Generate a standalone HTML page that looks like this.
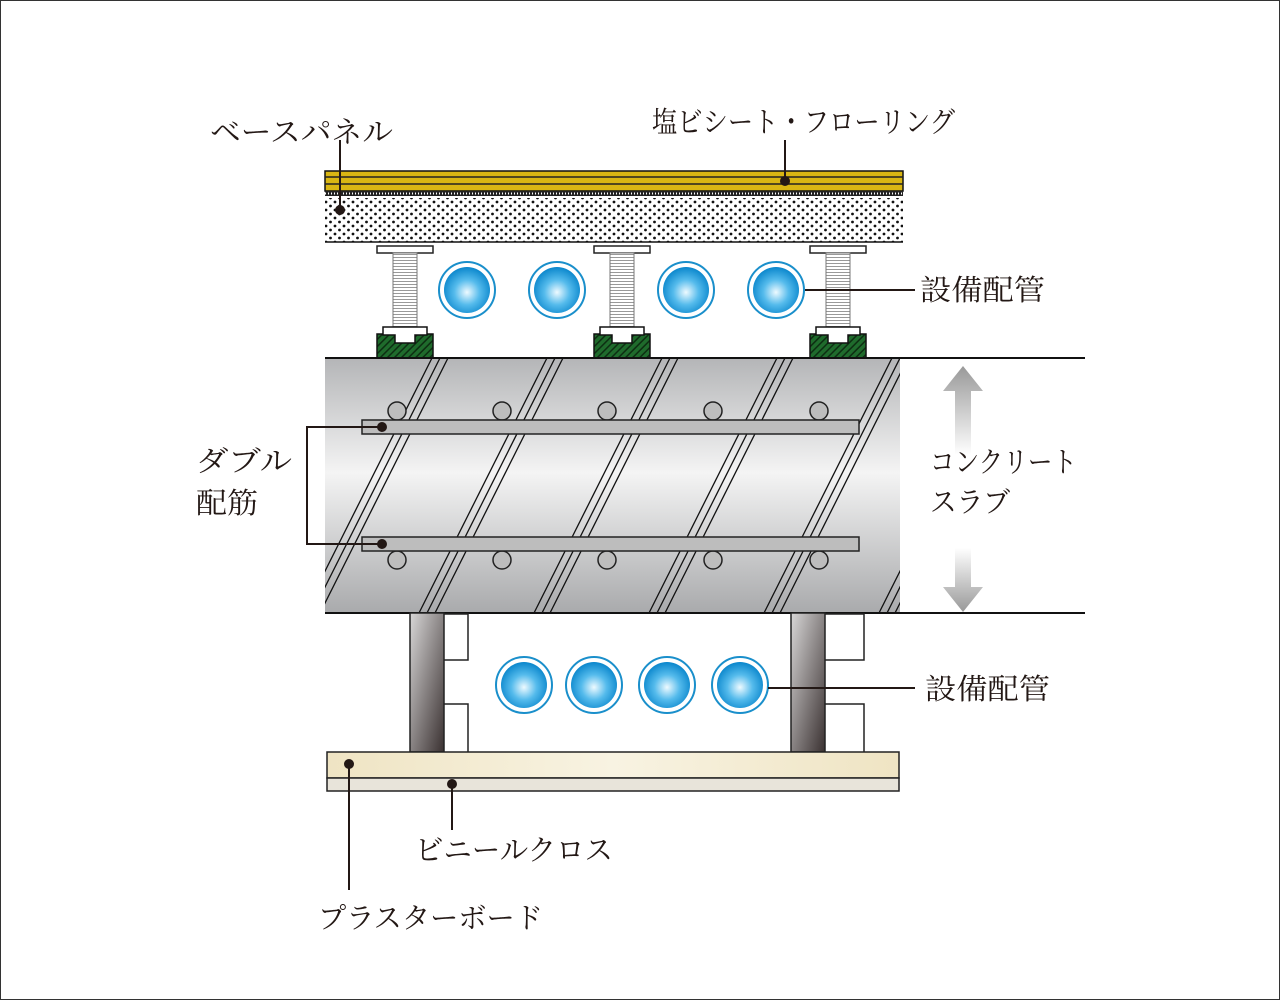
<!DOCTYPE html>
<html><head><meta charset="utf-8"><style>
html,body{margin:0;padding:0;background:#fff}
svg{display:block}
text{font-family:"Liberation Serif","Noto Serif CJK SC","Noto Sans CJK JP",serif;font-size:29px;fill:#231815}
</style></head><body>
<svg width="1280" height="1000" viewBox="0 0 1280 1000" xmlns="http://www.w3.org/2000/svg">
<defs>
<linearGradient id="slab" x1="0" y1="0" x2="0" y2="1">
<stop offset="0" stop-color="#b4b5b7"/><stop offset="0.45" stop-color="#f4f4f4"/><stop offset="1" stop-color="#a9aaac"/></linearGradient>
<radialGradient id="pipe" cx="0.5" cy="0.55" r="0.55">
<stop offset="0" stop-color="#eefaff"/><stop offset="0.5" stop-color="#55bbec"/><stop offset="1" stop-color="#0a86cc"/></radialGradient>
<linearGradient id="col" x1="0" y1="0" x2="1" y2="1">
<stop offset="0" stop-color="#d8d7d7"/><stop offset="1" stop-color="#3a3131"/></linearGradient>
<linearGradient id="board" x1="0" y1="0" x2="1" y2="0">
<stop offset="0" stop-color="#efe4c3"/><stop offset="0.5" stop-color="#f8f3e2"/><stop offset="1" stop-color="#efe4c3"/></linearGradient>
<linearGradient id="arr" x1="0" y1="0" x2="0" y2="1">
<stop offset="0" stop-color="#999"/><stop offset="1" stop-color="#fff"/></linearGradient>
<linearGradient id="arr2" x1="0" y1="1" x2="0" y2="0">
<stop offset="0" stop-color="#999"/><stop offset="1" stop-color="#fff"/></linearGradient>
<pattern id="dots" width="9" height="8" patternUnits="userSpaceOnUse">
<circle cx="2" cy="2" r="1.4" fill="#111"/><circle cx="6.5" cy="6" r="1.4" fill="#111"/></pattern>
<pattern id="hatch" width="5" height="5" patternUnits="userSpaceOnUse" patternTransform="rotate(45)">
<rect width="5" height="5" fill="#1f6b2c"/><rect width="1.5" height="5" fill="#0d2e12"/></pattern>
<pattern id="thread" width="4" height="3" patternUnits="userSpaceOnUse">
<rect width="4" height="3" fill="#fff"/><rect y="1" width="4" height="1" fill="#999"/></pattern>
<clipPath id="sc"><rect x="325" y="358" width="575" height="255"/></clipPath>
<g id="ped">
<rect x="-28" y="-1" width="56" height="7" fill="#fff" stroke="#222" stroke-width="1.5"/>
<rect x="-12" y="6" width="24" height="78" fill="url(#thread)" stroke="#777" stroke-width="1"/>
<path d="M-28 87 H28 V113 L24 117 H-24 L-28 113 Z" fill="url(#hatch)" stroke="#111" stroke-width="1.5"/>
<path d="M-22 80 H22 V88 H10 V96 H-10 V88 H-22 Z" fill="#fff" stroke="#111" stroke-width="1.5"/>
</g>
<g id="p"><circle r="28" fill="#fff" stroke="#1a8fcb" stroke-width="2"/><circle r="23" fill="url(#pipe)"/></g>
</defs>

<rect x="0.5" y="0.5" width="1279" height="999" fill="#fff" stroke="#333" stroke-width="1"/>

<rect x="325" y="171" width="578" height="20" fill="#d9b613" stroke="#111" stroke-width="1.5"/>
<line x1="325" y1="177" x2="903" y2="177" stroke="#222" stroke-width="1.5"/>
<line x1="325" y1="184" x2="903" y2="184" stroke="#222" stroke-width="1.5"/>
<rect x="325" y="191" width="578" height="5" fill="#222"/>
<line x1="325" y1="193.5" x2="903" y2="193.5" stroke="#fff" stroke-width="2" stroke-dasharray="1 2"/>
<rect x="325" y="198" width="578" height="44" fill="url(#dots)"/>
<line x1="325" y1="242" x2="903" y2="242" stroke="#111" stroke-width="1.5"/>

<use href="#ped" x="405" y="247"/>
<use href="#ped" x="622" y="247"/>
<use href="#ped" x="838" y="247"/>

<use href="#p" x="467" y="290"/><use href="#p" x="557" y="290"/>
<use href="#p" x="686" y="290"/><use href="#p" x="776" y="290"/>

<rect x="325" y="358" width="575" height="255" fill="url(#slab)"/>
<g clip-path="url(#sc)" stroke="#111" stroke-width="1.3">
<g id="st"><line x1="432" y1="358" x2="304" y2="613"/><line x1="440" y1="358" x2="312" y2="613"/><line x1="448" y1="358" x2="320" y2="613"/></g>
<use href="#st" x="115"/><use href="#st" x="230"/><use href="#st" x="345"/><use href="#st" x="460"/><use href="#st" x="575"/>
</g>
<line x1="325" y1="358" x2="1085" y2="358" stroke="#111" stroke-width="2"/>
<line x1="325" y1="613" x2="1085" y2="613" stroke="#111" stroke-width="2"/>
<g fill="#bdbdbd" stroke="#222" stroke-width="1.5">
<circle cx="397" cy="411" r="9"/><circle cx="502" cy="411" r="9"/><circle cx="607" cy="411" r="9"/><circle cx="713" cy="411" r="9"/><circle cx="819" cy="411" r="9"/>
<circle cx="397" cy="560" r="9"/><circle cx="502" cy="560" r="9"/><circle cx="607" cy="560" r="9"/><circle cx="713" cy="560" r="9"/><circle cx="819" cy="560" r="9"/>
<rect x="362" y="420" width="497" height="14"/>
<rect x="362" y="537" width="497" height="14"/>
</g>

<path d="M963 366 L983 391 H971 V455 H955 V391 H943 Z" fill="url(#arr)"/>
<path d="M963 612 L983 587 H971 V548 H955 V587 H943 Z" fill="url(#arr2)"/>

<rect x="410" y="613" width="34" height="139" fill="url(#col)" stroke="#222" stroke-width="1.5"/>
<rect x="791" y="613" width="34" height="139" fill="url(#col)" stroke="#222" stroke-width="1.5"/>
<g fill="none" stroke="#222" stroke-width="1.5">
<path d="M444 614 H468 V660 H444 M444 704 H468 V752"/>
<path d="M825 614 H864 V660 H825 M825 704 H864 V752"/>
</g>
<use href="#p" x="524" y="685"/><use href="#p" x="594" y="685"/>
<use href="#p" x="667" y="685"/><use href="#p" x="740" y="685"/>
<rect x="327" y="752" width="572" height="26" fill="url(#board)" stroke="#222" stroke-width="1.5"/>
<rect x="327" y="778" width="572" height="13" fill="#e8e4da" stroke="#222" stroke-width="1.5"/>

<g stroke="#231815" stroke-width="2" fill="none">
<line x1="340" y1="140" x2="340" y2="210"/>
<line x1="785" y1="140" x2="785" y2="181"/>
<line x1="805" y1="290" x2="915" y2="290"/>
<path d="M382 427 H307 V544 H382"/>
<line x1="768" y1="688" x2="915" y2="688"/>
<line x1="349" y1="764" x2="349" y2="890"/>
<line x1="452" y1="784" x2="452" y2="830"/>
</g>
<g fill="#231815">
<circle cx="340" cy="210" r="5"/><circle cx="785" cy="181" r="5"/>
<circle cx="382" cy="427" r="5"/><circle cx="382" cy="544" r="5"/>
<circle cx="349" cy="764" r="5"/><circle cx="452" cy="784" r="5"/>
</g>

<text x="210" y="142" textLength="183" lengthAdjust="spacingAndGlyphs">ベースパネル</text>
<text x="652" y="132" textLength="303" lengthAdjust="spacingAndGlyphs">塩ビシート・フローリング</text>
<text x="920" y="300" textLength="125" lengthAdjust="spacingAndGlyphs">設備配管</text>
<text x="196" y="471" textLength="96" lengthAdjust="spacingAndGlyphs">ダブル</text>
<text x="196" y="513" textLength="62" lengthAdjust="spacingAndGlyphs">配筋</text>
<text x="930" y="472" textLength="147" lengthAdjust="spacingAndGlyphs">コンクリート</text>
<text x="930" y="512" textLength="80" lengthAdjust="spacingAndGlyphs">スラブ</text>
<text x="925" y="699" textLength="125" lengthAdjust="spacingAndGlyphs">設備配管</text>
<text x="415" y="860" textLength="198" lengthAdjust="spacingAndGlyphs">ビニールクロス</text>
<text x="318" y="928" textLength="225" lengthAdjust="spacingAndGlyphs">プラスターボード</text>
</svg>
</body></html>
